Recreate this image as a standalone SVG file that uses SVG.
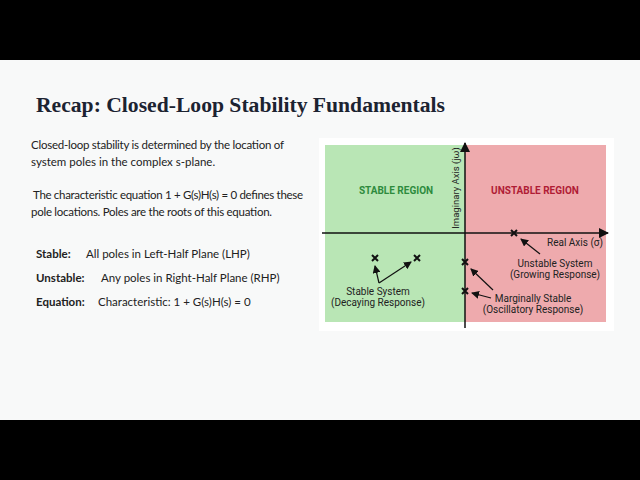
<svg xmlns="http://www.w3.org/2000/svg" width="640" height="480" viewBox="0 0 640 480">
<defs>
<style>
.b{font-family:Lato,"Liberation Sans",sans-serif;font-size:11.5px;fill:#222}
.l{font-family:Roboto,"Liberation Sans",sans-serif;font-size:10px;fill:#222;text-anchor:middle}
.ax{stroke:#111;stroke-width:1.5;fill:none}
.pl{stroke:#111;stroke-width:2}
.ar{stroke:#111;stroke-width:1.2;marker-end:url(#m)}
</style>
<marker id="m" markerWidth="8" markerHeight="8" refX="7" refY="4" orient="auto" markerUnits="userSpaceOnUse"><path d="M0,0L8,4L0,8z" fill="#111"/></marker>
<marker id="ma" markerWidth="10" markerHeight="10" refX="9" refY="5" orient="auto" markerUnits="userSpaceOnUse"><path d="M0,0L10,5L0,10z" fill="#111"/></marker>
</defs>
<rect width="640" height="480" fill="#f8f9f9"/>
<rect width="640" height="60" fill="#000"/>
<rect y="420" width="640" height="60" fill="#000"/>
<text x="36" y="112" font-family="'Liberation Serif',serif" font-weight="bold" font-size="20" fill="#1c2331" textLength="409" lengthAdjust="spacingAndGlyphs">Recap: Closed-Loop Stability Fundamentals</text>
<g id="text">
<text class="b" x="31" y="149" textLength="253">Closed-loop stability is determined by the location of</text>
<text class="b" x="31" y="166">system poles in the complex s-plane.</text>
<text class="b" x="33" y="199" textLength="270">The characteristic equation 1 + G(s)H(s) = 0 defines these</text>
<text class="b" x="31" y="216" textLength="241">pole locations. Poles are the roots of this equation.</text>
<text class="b" x="36" y="258"><tspan font-weight="bold">Stable:</tspan><tspan x="86">All poles in Left-Half Plane (LHP)</tspan></text>
<text class="b" x="36" y="282"><tspan font-weight="bold">Unstable:</tspan><tspan x="101">Any poles in Right-Half Plane (RHP)</tspan></text>
<text class="b" x="36" y="306"><tspan font-weight="bold">Equation:</tspan><tspan x="98">Characteristic: 1 + G(s)H(s) = 0</tspan></text>
</g>
<g id="plot">
<rect x="319" y="138" width="295" height="193" fill="#fff"/>
<rect x="325" y="145" width="140" height="177" fill="#b9e6b5"/>
<rect x="465" y="145" width="141" height="177" fill="#eeaaad"/>
<text x="396" y="194" text-anchor="middle" font-family="Roboto,'Liberation Sans',sans-serif" font-weight="bold" font-size="10" fill="#2e8b3e">STABLE REGION</text>
<text x="535" y="194" text-anchor="middle" font-family="Roboto,'Liberation Sans',sans-serif" font-weight="bold" font-size="10" fill="#b01c35">UNSTABLE REGION</text>
</g>
<g id="connectors">
<line class="ax" x1="322" y1="233" x2="608" y2="233" marker-end="url(#ma)"/>
<line class="ax" x1="465" y1="328" x2="465" y2="143" marker-end="url(#ma)"/>
<line class="ar" x1="379" y1="283" x2="375" y2="266"/>
<line class="ar" x1="379" y1="283" x2="411" y2="262"/>
<line class="ar" x1="540" y1="254" x2="521" y2="239"/>
<line class="ar" x1="493" y1="290" x2="471" y2="269"/>
<line class="ar" x1="491" y1="298" x2="472" y2="293"/>
</g>
<g id="poles">
<path class="pl" d="M372,255l6,6M378,255l-6,6M414,255l6,6M420,255l-6,6M511,230l6,6M517,230l-6,6M462,259l6,6M468,259l-6,6M462,288l6,6M468,288l-6,6"/>
</g>
<g id="labels">
<text x="459" y="188" transform="rotate(-90 459 188)" text-anchor="middle" font-family="Roboto,'Liberation Sans',sans-serif" font-size="9.5" fill="#222">Imaginary Axis (jω)</text>
<text x="575" y="246" class="l">Real Axis (σ)</text>
<text x="555" y="267" class="l">Unstable System</text>
<text x="555" y="278" class="l">(Growing Response)</text>
<text x="378" y="295" class="l">Stable System</text>
<text x="378" y="306" class="l">(Decaying Response)</text>
<text x="533" y="302" class="l">Marginally Stable</text>
<text x="533" y="313" class="l">(Oscillatory Response)</text>
</g>
</svg>
